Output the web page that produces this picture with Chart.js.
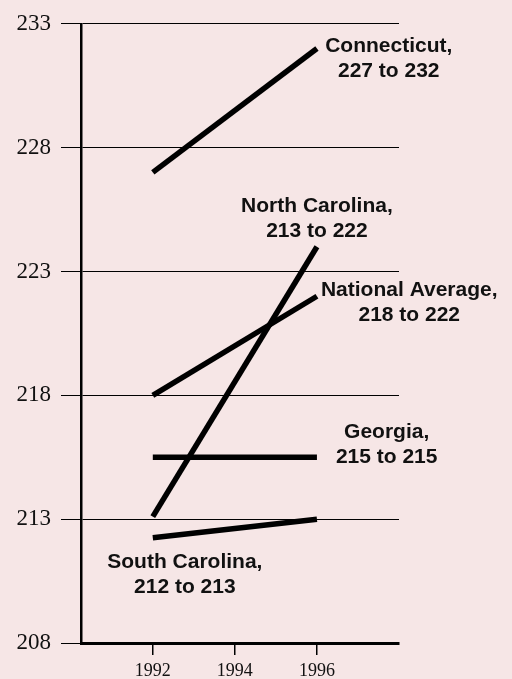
<!DOCTYPE html>
<html>
<head>
<meta charset="utf-8">
<script src="https://cdn.jsdelivr.net/npm/chart.js@4"></script>
<style>
  html, body { margin: 0; padding: 0; background: #f6e6e6; }
  #wrap { width: 512px; height: 679px; }
</style>
</head>
<body>
<div id="wrap"><canvas id="myChart" width="512" height="679"></canvas></div>
<script>
// data
var years = [1992, 1996];
var xTicks = [1992, 1994, 1996];
var yTicks = [208, 213, 218, 223, 228, 233];
var connecticut = [227, 232];
var northCarolina = [213.1, 224];
var nationalAverage = [218, 222];
var georgia = [215.5, 215.5];
var southCarolina = [212.25, 213];

var seriesNames = ['Connecticut', 'North Carolina', 'National Average', 'Georgia', 'South Carolina'];
var seriesValues = [connecticut, northCarolina, nationalAverage, georgia, southCarolina];
var labelLines = [
    ['Connecticut,', '227 to 232'],
    ['North Carolina,', '213 to 222'],
    ['National Average,', '218 to 222'],
    ['Georgia,', '215 to 215'],
    ['South Carolina,', '212 to 213']
];
// where each label sits, in chart units (year, score)
var labelX = [1997.75, 1996.0, 1998.25, 1997.7, 1992.78];
var labelY = [232.1, 225.65, 222.25, 216.5, 211.25];

function toPoints(vals) {
    return years.map(function (y, i) { return { x: y, y: vals[i] }; });
}

var datasets = seriesValues.map(function (vals, i) {
    return {
        label: seriesNames[i],
        data: toPoints(vals),
        borderColor: '#000',
        borderWidth: 5.5,
        borderCapStyle: 'butt',
        pointRadius: 0,
        tension: 0
    };
});

var labelPlugin = {
    id: 'stateLabels',
    afterDatasetsDraw: function (chart) {
        var ctx = chart.ctx;
        var xs = chart.scales.x, ys = chart.scales.y;
        ctx.save();
        ctx.fillStyle = '#111';
        ctx.font = 'bold 21px "Liberation Sans", Arial, sans-serif';
        ctx.textAlign = 'center';
        ctx.textBaseline = 'middle';
        labelLines.forEach(function (lines, i) {
            var px = xs.getPixelForValue(labelX[i]);
            var py = ys.getPixelForValue(labelY[i]);
            lines.forEach(function (t, j) {
                ctx.fillText(t, px, py + j * 25);
            });
        });
        ctx.restore();
    }
};

var dates = {
    type: 'line',
    data: { datasets: datasets },
    options: {
        responsive: false,
        animation: false,
        layout: { padding: { top: 18, right: 113, bottom: 0, left: 0 } },
        plugins: { legend: { display: false }, tooltip: { enabled: false } },
        scales: {
            x: {
                type: 'linear',
                min: 1990.25,
                max: 1998,
                afterBuildTicks: function (s) { s.ticks = xTicks.map(function (v) { return { value: v }; }); },
                afterFit: function (s) { s.height = 36; },
                grid: { drawOnChartArea: false, drawTicks: true, tickLength: 12, color: '#000', lineWidth: 1.5 },
                border: { color: '#000', width: 3 },
                ticks: {
                    color: '#111',
                    padding: 5,
                    maxRotation: 0,
                    font: { family: '"Liberation Serif", "Times New Roman", serif', size: 18 },
                    callback: function (v) { return String(v); }
                }
            },
            y: {
                min: 208,
                max: 233,
                afterBuildTicks: function (s) { s.ticks = yTicks.map(function (v) { return { value: v }; }); },
                afterFit: function (s) { s.width = 81; },
                grid: { color: '#000', lineWidth: 1, tickLength: 20 },
                border: { color: '#000', width: 2.5 },
                ticks: {
                    color: '#111',
                    padding: 10,
                    font: { family: '"Liberation Serif", "Times New Roman", serif', size: 23 }
                }
            }
        }
    },
    plugins: [labelPlugin]
};

const ctx = document.getElementById('myChart').getContext('2d');
const myChart = new Chart(ctx, dates);
</script>
</body>
</html>
